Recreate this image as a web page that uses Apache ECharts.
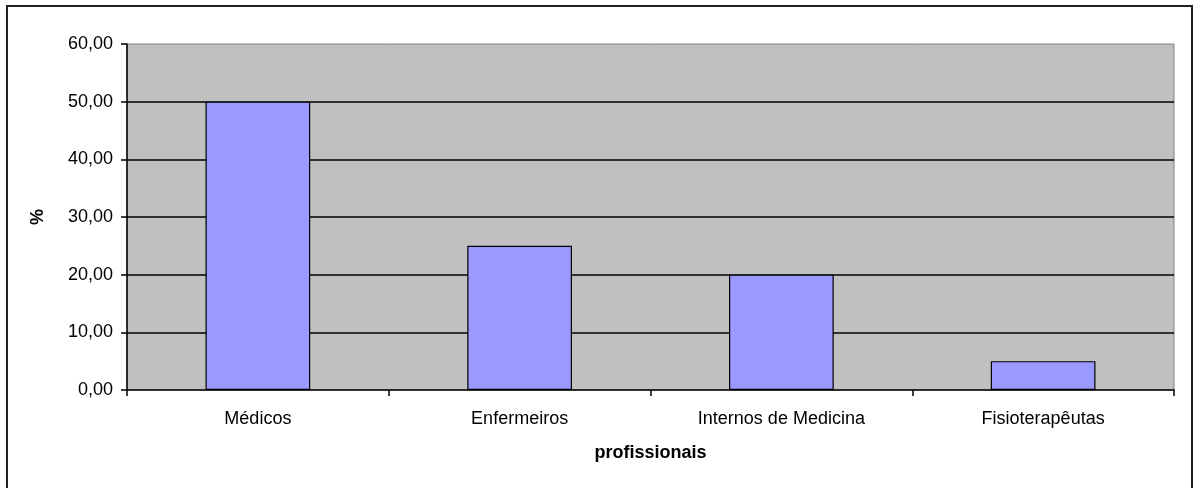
<!DOCTYPE html>
<html>
<head>
<meta charset="utf-8">
<script src="https://cdn.jsdelivr.net/npm/echarts@6/dist/echarts.min.js"></script>
<style>
  html, body { margin: 0; padding: 0; background: #fff; }
  #chart { width: 1194px; height: 488px; }
</style>
</head>
<body>
<div id="chart"></div>
<script>
// Share of professionals by category (%)
const categories = ['Médicos', 'Enfermeiros', 'Internos de Medicina', 'Fisioterapêutas'];
const percentages = [50, 25, 20, 5];
const yTicks = { min: 0, max: 60, interval: 10 };
const xAxisTitle = 'profissionais';
const yAxisTitle = '%';

const FONT = '"Liberation Sans", Arial, sans-serif';

const chart = echarts.init(document.getElementById('chart'), null, { renderer: 'canvas' });

chart.setOption({
  animation: false,
  backgroundColor: '#ffffff',
  textStyle: { fontFamily: FONT },
  graphic: [{
    type: 'rect',
    shape: { x: 7, y: 6, width: 1185, height: 520 },
    style: { fill: 'none', stroke: '#222', lineWidth: 2 },
    silent: true
  }],
  grid: {
    left: 127, top: 44, right: 20, bottom: 98,
    show: true,
    backgroundColor: '#c0c0c0',
    borderColor: '#808080',
    borderWidth: 1
  },
  xAxis: {
    type: 'category',
    data: categories,
    name: xAxisTitle,
    nameLocation: 'middle',
    nameGap: 54,
    nameTextStyle: { fontFamily: FONT, fontSize: 18, fontWeight: 'bold', color: '#000' },
    axisLine: { lineStyle: { color: '#000', width: 1.5 } },
    axisTick: { show: true, length: 6, lineStyle: { color: '#000', width: 1.5 } },
    axisLabel: { margin: 20, fontFamily: FONT, fontSize: 18, color: '#000' }
  },
  yAxis: {
    type: 'value',
    min: yTicks.min,
    max: yTicks.max,
    interval: yTicks.interval,
    name: yAxisTitle,
    nameLocation: 'middle',
    nameGap: 80,
    nameRotate: 90,
    nameTextStyle: { fontFamily: FONT, fontSize: 18, fontWeight: 'bold', color: '#000' },
    axisLine: { show: true, lineStyle: { color: '#000', width: 1.5 } },
    axisTick: { show: true, length: 6, lineStyle: { color: '#000', width: 1.5 } },
    axisLabel: {
      margin: 14,
      fontFamily: FONT, fontSize: 18, color: '#000',
      formatter: v => v.toFixed(2).replace('.', ',')
    },
    splitLine: {
      show: true,
      showMinLine: false,
      showMaxLine: false,
      lineStyle: { color: '#000', width: 1.5 }
    }
  },
  series: [{
    type: 'bar',
    data: percentages,
    barWidth: '40%',
    itemStyle: { color: '#9999ff', borderColor: '#000', borderWidth: 1.2 }
  }]
});
</script>
</body>
</html>
